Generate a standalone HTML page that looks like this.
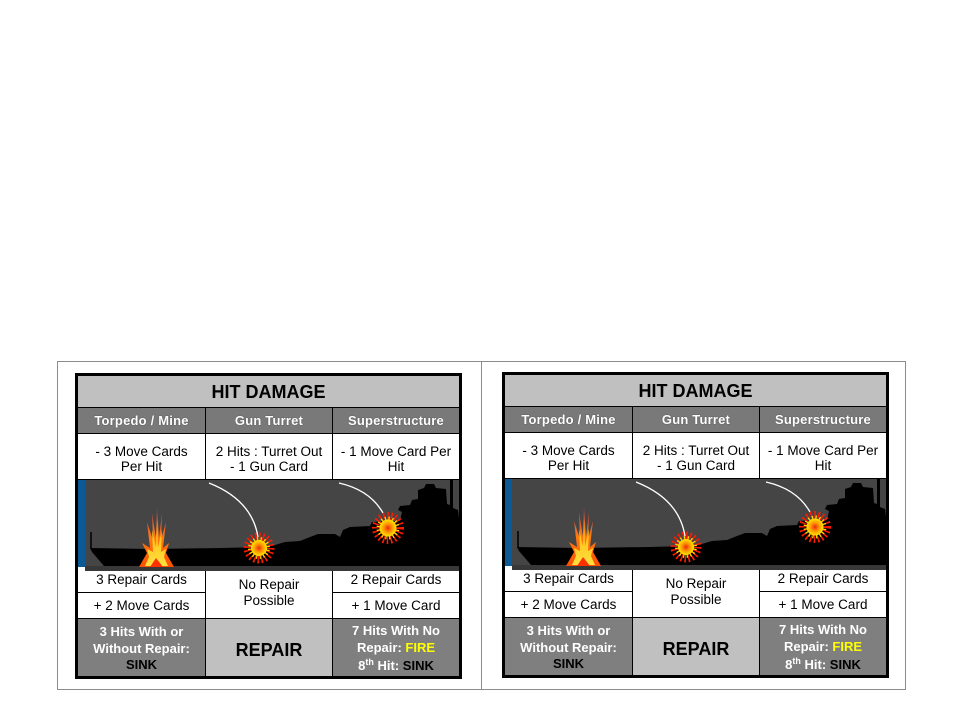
<!DOCTYPE html>
<html><head><meta charset="utf-8">
<style>
html,body{margin:0;padding:0;background:#fff;}
body{width:960px;height:720px;position:relative;overflow:hidden;font-family:"Liberation Sans",Arial,sans-serif;}
.ln{position:absolute;background:#8c8c8c;}
.card{position:absolute;width:387px;height:306px;background:#000;}
.card div{position:absolute;}
.t{background:#c0c0c0;}
.h{background:#797979;}
.w{background:#fff;}
.g{background:#7f7f7f;}
.tx{text-align:center;white-space:nowrap;}
.tt{font-weight:bold;font-size:18px;line-height:20px;color:#000;}
.ht{font-weight:bold;font-size:13px;line-height:15px;color:#fff;letter-spacing:0.2px;text-shadow:0 0 1px #333;}
.ct{font-size:13.5px;line-height:15.5px;color:#000;}
.bt{font-weight:bold;font-size:13px;line-height:16.5px;color:#fff;}
.bk{color:#000;}
.fy{color:#ffff00;}
sup{font-size:9px;line-height:0;vertical-align:5px;}
</style></head>
<body>
<!-- frame -->
<div class="ln" style="left:57px;top:361px;width:849px;height:1px"></div>
<div class="ln" style="left:57px;top:689px;width:849px;height:1px"></div>
<div class="ln" style="left:57px;top:361px;width:1px;height:329px"></div>
<div class="ln" style="left:905px;top:361px;width:1px;height:329px"></div>
<div class="ln" style="left:481px;top:361px;width:1px;height:329px"></div>

<!-- card 1 -->
<div class="card" style="left:75px;top:373px">
  <div class="t" style="left:3px;top:3px;width:381px;height:31px"></div>
  <div class="h" style="left:3px;top:35px;width:127px;height:25px"></div>
  <div class="h" style="left:131px;top:35px;width:126px;height:25px"></div>
  <div class="h" style="left:258px;top:35px;width:126px;height:25px"></div>
  <div class="w" style="left:3px;top:61px;width:127px;height:45px"></div>
  <div class="w" style="left:131px;top:61px;width:126px;height:45px"></div>
  <div class="w" style="left:258px;top:61px;width:126px;height:45px"></div>
  <div class="w" style="left:3px;top:194px;width:127px;height:25px"></div>
  <div class="w" style="left:3px;top:220px;width:127px;height:25px"></div>
  <div class="w" style="left:131px;top:194px;width:126px;height:51px"></div>
  <div class="w" style="left:258px;top:194px;width:126px;height:25px"></div>
  <div class="w" style="left:258px;top:220px;width:126px;height:25px"></div>
  <div class="g" style="left:3px;top:246px;width:127px;height:57px"></div>
  <div class="t" style="left:131px;top:246px;width:126px;height:57px"></div>
  <div class="g" style="left:258px;top:246px;width:126px;height:57px"></div>

  <div class="tx tt" style="left:3px;top:9px;width:381px">HIT DAMAGE</div>
  <div class="tx ht" style="left:3px;top:40px;width:127px">Torpedo / Mine</div>
  <div class="tx ht" style="left:131px;top:40px;width:126px">Gun Turret</div>
  <div class="tx ht" style="left:258px;top:40px;width:126px">Superstructure</div>
  <div class="tx ct" style="left:3px;top:70.5px;width:127px">- 3 Move Cards<br>Per Hit</div>
  <div class="tx ct" style="left:131px;top:70.5px;width:126px">2 Hits : Turret Out<br>- 1 Gun Card</div>
  <div class="tx ct" style="left:258px;top:70.5px;width:126px">- 1 Move Card Per<br>Hit</div>
  <div class="tx ct" style="left:3px;top:199px;width:127px">3 Repair Cards</div>
  <div class="tx ct" style="left:3px;top:225px;width:127px">+ 2 Move Cards</div>
  <div class="tx ct" style="left:131px;top:204px;width:126px;line-height:16px">No Repair<br>Possible</div>
  <div class="tx ct" style="left:258px;top:199px;width:126px">2 Repair Cards</div>
  <div class="tx ct" style="left:258px;top:225px;width:126px">+ 1 Move Card</div>
  <div class="tx bt" style="left:3px;top:251px;width:127px">3 Hits With or<br>Without Repair:<br><span class="bk">SINK</span></div>
  <div class="tx tt" style="left:131px;top:267px;width:126px">REPAIR</div>
  <div class="tx bt" style="left:258px;top:250px;width:126px">7 Hits With No<br>Repair: <span class="fy">FIRE</span></div>
  <div class="tx bt" style="left:258px;top:285px;width:126px">8<sup>th</sup> Hit: <span class="bk">SINK</span></div>
</div>

<!-- card 2 -->
<div class="card" style="left:502px;top:372px">
  <div class="t" style="left:3px;top:3px;width:381px;height:31px"></div>
  <div class="h" style="left:3px;top:35px;width:127px;height:25px"></div>
  <div class="h" style="left:131px;top:35px;width:126px;height:25px"></div>
  <div class="h" style="left:258px;top:35px;width:126px;height:25px"></div>
  <div class="w" style="left:3px;top:61px;width:127px;height:45px"></div>
  <div class="w" style="left:131px;top:61px;width:126px;height:45px"></div>
  <div class="w" style="left:258px;top:61px;width:126px;height:45px"></div>
  <div class="w" style="left:3px;top:194px;width:127px;height:25px"></div>
  <div class="w" style="left:3px;top:220px;width:127px;height:25px"></div>
  <div class="w" style="left:131px;top:194px;width:126px;height:51px"></div>
  <div class="w" style="left:258px;top:194px;width:126px;height:25px"></div>
  <div class="w" style="left:258px;top:220px;width:126px;height:25px"></div>
  <div class="g" style="left:3px;top:246px;width:127px;height:57px"></div>
  <div class="t" style="left:131px;top:246px;width:126px;height:57px"></div>
  <div class="g" style="left:258px;top:246px;width:126px;height:57px"></div>

  <div class="tx tt" style="left:3px;top:9px;width:381px">HIT DAMAGE</div>
  <div class="tx ht" style="left:3px;top:40px;width:127px">Torpedo / Mine</div>
  <div class="tx ht" style="left:131px;top:40px;width:126px">Gun Turret</div>
  <div class="tx ht" style="left:258px;top:40px;width:126px">Superstructure</div>
  <div class="tx ct" style="left:3px;top:70.5px;width:127px">- 3 Move Cards<br>Per Hit</div>
  <div class="tx ct" style="left:131px;top:70.5px;width:126px">2 Hits : Turret Out<br>- 1 Gun Card</div>
  <div class="tx ct" style="left:258px;top:70.5px;width:126px">- 1 Move Card Per<br>Hit</div>
  <div class="tx ct" style="left:3px;top:199px;width:127px">3 Repair Cards</div>
  <div class="tx ct" style="left:3px;top:225px;width:127px">+ 2 Move Cards</div>
  <div class="tx ct" style="left:131px;top:204px;width:126px;line-height:16px">No Repair<br>Possible</div>
  <div class="tx ct" style="left:258px;top:199px;width:126px">2 Repair Cards</div>
  <div class="tx ct" style="left:258px;top:225px;width:126px">+ 1 Move Card</div>
  <div class="tx bt" style="left:3px;top:251px;width:127px">3 Hits With or<br>Without Repair:<br><span class="bk">SINK</span></div>
  <div class="tx tt" style="left:131px;top:267px;width:126px">REPAIR</div>
  <div class="tx bt" style="left:258px;top:250px;width:126px">7 Hits With No<br>Repair: <span class="fy">FIRE</span></div>
  <div class="tx bt" style="left:258px;top:285px;width:126px">8<sup>th</sup> Hit: <span class="bk">SINK</span></div>
</div>

<svg width="960" height="720" viewBox="0 0 960 720" style="position:absolute;left:0;top:0;pointer-events:none">
<defs>
  <radialGradient id="sb">
    <stop offset="0" stop-color="#e82a10"/>
    <stop offset="0.45" stop-color="#ff8c00"/>
    <stop offset="1" stop-color="#ffe600"/>
  </radialGradient>
  <linearGradient id="fl" x1="0" y1="0" x2="0" y2="1">
    <stop offset="0" stop-color="#b04060"/>
    <stop offset="0.5" stop-color="#ff7a10"/>
    <stop offset="1" stop-color="#ff5000"/>
  </linearGradient>
  <linearGradient id="fy" x1="0" y1="0" x2="0" y2="1">
    <stop offset="0" stop-color="#ffb000"/>
    <stop offset="1" stop-color="#ffe040"/>
  </linearGradient>
  <g id="pic">
    <rect x="78" y="480" width="7" height="87" fill="#0b5a96"/>
    <rect x="85" y="480" width="374" height="91" fill="#454545"/>
    <rect x="85" y="566" width="374" height="5" fill="#383838"/>
    <polygon fill="#000" points="90,548 150,549 222,548 260,547 275,545 285,542 300,541 310,537 318,534 335,534 340,537 343,530 350,527 370,526 372,522 400,521 402,512 398,510 400,506 410,505 412,500 418,499 418,490 424,488 426,484 434,484 436,488 446,489 447,504 450,505 450,480 453,480 453,508 458,510 459,518 459,566 104,566 92,552"/>
    <line x1="91" y1="532" x2="91" y2="549" stroke="#000" stroke-width="1.5"/>
    <!-- torpedo explosion -->
    <polygon fill="url(#fl)" points="139,567 143,560 147,553 142,543 150,548 147,522 153,540 152,513 156,538 157,508 159,538 162,513 161,540 166,522 163,548 169,543 166,553 170,560 174,567"/>
    <polygon fill="url(#fy)" points="145,566 149,557 147,549 153,552 152,530 156,547 157,519 158,547 162,530 161,552 166,549 164,557 168,566"/>
    <polygon fill="#ff3000" points="150,567 156,558 163,567"/>
    <!-- trajectories -->
    <path d="M209,483 Q252,500 258,537" fill="none" stroke="#fff" stroke-width="1.3"/>
    <path d="M339,483 Q370,490 383,513" fill="none" stroke="#fff" stroke-width="1.3"/>
    <!-- hits -->
    <g transform="translate(259,548)">
      <circle r="11.5" fill="none" stroke="#ff1a00" stroke-width="8" stroke-dasharray="1.4 2.2"/>
      <circle r="9" fill="none" stroke="#ffd800" stroke-width="4" stroke-dasharray="1.2 2.3" stroke-dashoffset="1.8"/>
      <circle r="8" fill="url(#sb)"/>
    </g>
    <g transform="translate(388,528)">
      <circle r="12" fill="none" stroke="#ff1a00" stroke-width="8" stroke-dasharray="1.4 2.3"/>
      <circle r="9.5" fill="none" stroke="#ffd800" stroke-width="4" stroke-dasharray="1.2 2.4" stroke-dashoffset="1.8"/>
      <circle r="8.5" fill="url(#sb)"/>
    </g>
  </g>
</defs>
<use href="#pic"/>
<use href="#pic" transform="translate(427,-1)"/>
</svg>
</body></html>
